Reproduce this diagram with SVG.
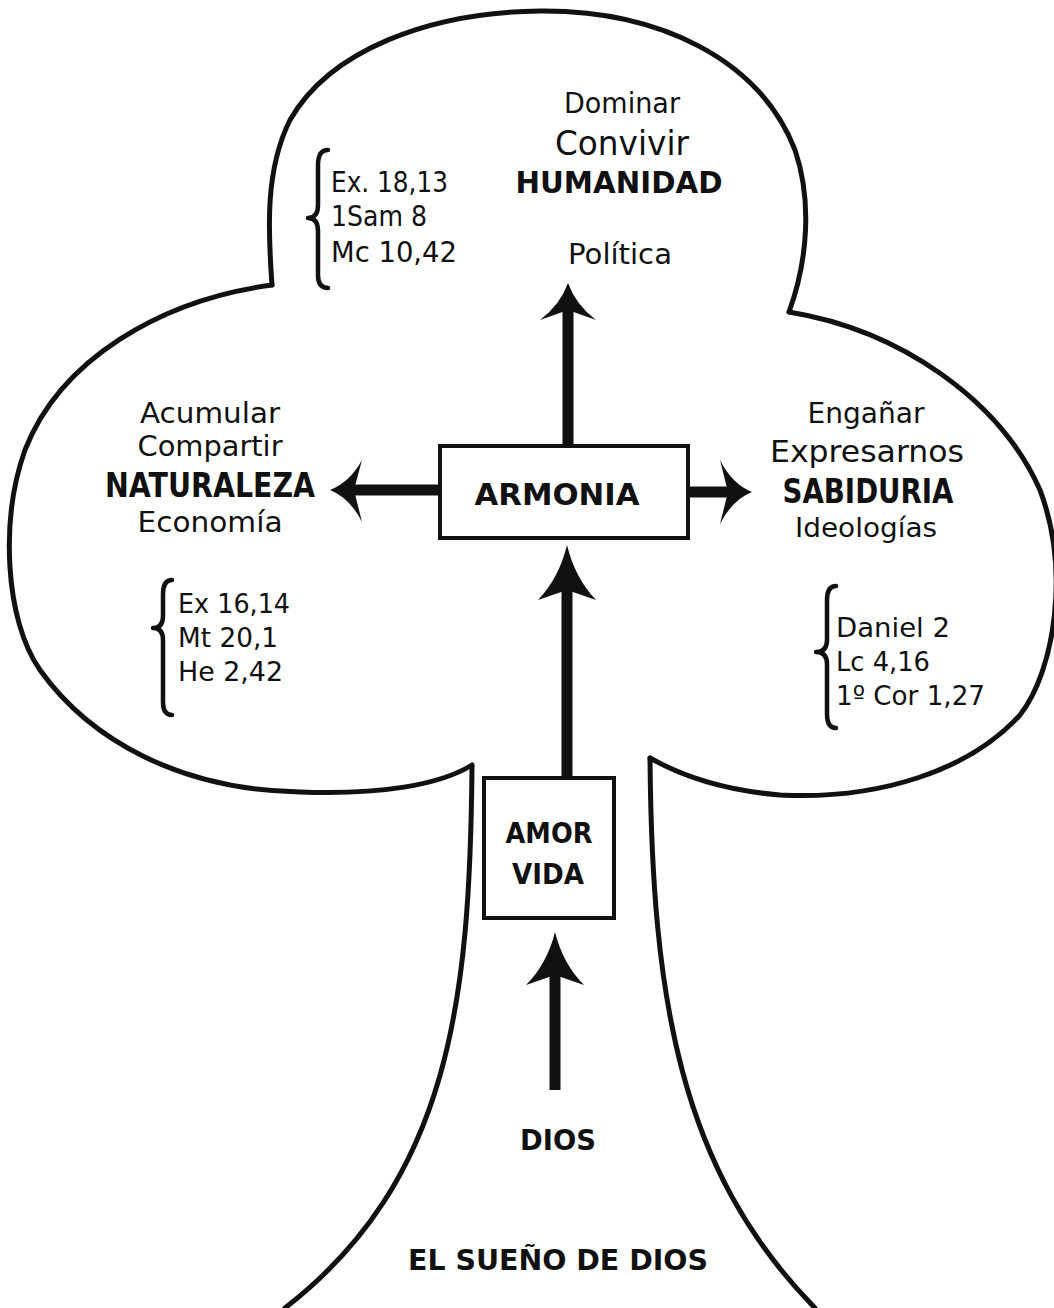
<svg xmlns="http://www.w3.org/2000/svg" width="1054" height="1308" viewBox="0 0 1054 1308">
<style>
.o{fill:none;stroke:#111;stroke-width:5;stroke-linecap:round;stroke-linejoin:round}
.br{fill:none;stroke:#111;stroke-width:4.5;stroke-linecap:round;stroke-linejoin:round}
.box{fill:#fff;stroke:#111;stroke-width:4}
.t{font-family:"DejaVu Sans","Liberation Sans",sans-serif;fill:#111}
.b{font-family:"DejaVu Sans","Liberation Sans",sans-serif;font-weight:bold;fill:#111}
.sh{stroke:#111;stroke-width:11;fill:none}
.ah{fill:#111}
</style>
<rect width="1054" height="1308" fill="#fff"/>
<g id="tree-outline">
<path class="o" d="M272,285 C268,230 265,170 290,120 C330,50 430,12 540,11 C660,10 760,60 795,150 C812,200 808,260 789,312"/>
<path class="o" d="M789,312 C900,330 1000,400 1040,490 C1070,570 1055,670 1020,715 C970,770 880,800 780,795 C720,790 680,775 650,758"/>
<path class="o" d="M272,285 C160,300 60,360 25,450 C0,520 5,620 40,670 C90,740 180,790 300,792 C380,795 440,785 472,765"/>
<path class="o" d="M472,766 C470,1000 450,1180 285,1308"/>
<path class="o" d="M650,758 C652,1000 680,1170 815,1308"/>
</g>
<g id="connectors">
<line class="sh" x1="568" y1="446" x2="568" y2="305"/>
<path class="ah" d="M568,283 Q560,305 540,320 L568,310 L596,320 Q576,305 568,283 Z"/>
<line class="sh" x1="440" y1="490" x2="352" y2="490"/>
<path class="ah" d="M330,490 Q350,482 362,460 L354,490 L362,522 Q350,498 330,490 Z"/>
<line class="sh" x1="688" y1="492" x2="730" y2="492"/>
<path class="ah" d="M752,492 Q732,484 720,460 L728,492 L720,524 Q732,500 752,492 Z"/>
<line class="sh" x1="567" y1="778" x2="567" y2="570"/>
<path class="ah" d="M567,545 Q559,578 538,600 L567,590 L596,600 Q575,578 567,545 Z"/>
<line class="sh" x1="555" y1="1090" x2="555" y2="960"/>
<path class="ah" d="M555,932 Q547,964 526,985 L555,975 L584,985 Q563,964 555,932 Z"/>
</g>
<g id="humanidad">
<text class="t" x="622" y="113" font-size="28" text-anchor="middle" textLength="116" lengthAdjust="spacingAndGlyphs">Dominar</text>
<text class="t" x="622" y="155" font-size="34" text-anchor="middle" textLength="134" lengthAdjust="spacingAndGlyphs">Convivir</text>
<text class="b" x="619" y="193" font-size="31" text-anchor="middle" textLength="207" lengthAdjust="spacingAndGlyphs">HUMANIDAD</text>
<text class="t" x="620" y="264" font-size="28" text-anchor="middle" textLength="104" lengthAdjust="spacingAndGlyphs">Política</text>
</g>
<g id="refs-humanidad">
<path class="br" d="M328,150 Q318,150 318,165 L318,205 Q318,218 308,218 Q318,218 318,231 L318,275 Q318,288 328,288"/>
<text class="t" x="331" y="192" font-size="29" textLength="117" lengthAdjust="spacingAndGlyphs">Ex. 18,13</text>
<text class="t" x="331" y="226" font-size="29" textLength="96" lengthAdjust="spacingAndGlyphs">1Sam 8</text>
<text class="t" x="331" y="262" font-size="29" textLength="126" lengthAdjust="spacingAndGlyphs">Mc 10,42</text>
</g>
<g id="naturaleza">
<text class="t" x="210" y="423" font-size="28" text-anchor="middle" textLength="140" lengthAdjust="spacingAndGlyphs">Acumular</text>
<text class="t" x="210" y="456" font-size="28" text-anchor="middle" textLength="145" lengthAdjust="spacingAndGlyphs">Compartir</text>
<text class="b" x="210" y="497" font-size="33" text-anchor="middle" textLength="210" lengthAdjust="spacingAndGlyphs">NATURALEZA</text>
<text class="t" x="210" y="532" font-size="28" text-anchor="middle" textLength="145" lengthAdjust="spacingAndGlyphs">Economía</text>
</g>
<g id="refs-naturaleza">
<path class="br" d="M172,580 Q163,580 163,594 L163,616 Q163,628 153,628 Q163,628 163,640 L163,702 Q163,715 172,715"/>
<text class="t" x="178" y="613" font-size="27" textLength="112" lengthAdjust="spacingAndGlyphs">Ex 16,14</text>
<text class="t" x="178" y="647" font-size="27" textLength="100" lengthAdjust="spacingAndGlyphs">Mt 20,1</text>
<text class="t" x="178" y="681" font-size="27" textLength="105" lengthAdjust="spacingAndGlyphs">He 2,42</text>
</g>
<g id="armonia">
<rect class="box" x="440" y="446" width="248" height="92"/>
<text class="b" x="557" y="505" font-size="30" text-anchor="middle" textLength="165" lengthAdjust="spacingAndGlyphs">ARMONIA</text>
</g>
<g id="sabiduria">
<text class="t" x="866" y="423" font-size="28" text-anchor="middle" textLength="117" lengthAdjust="spacingAndGlyphs">Engañar</text>
<text class="t" x="867" y="462" font-size="31" text-anchor="middle" textLength="194" lengthAdjust="spacingAndGlyphs">Expresarnos</text>
<text class="b" x="868" y="503" font-size="33" text-anchor="middle" textLength="171" lengthAdjust="spacingAndGlyphs">SABIDURIA</text>
<text class="t" x="866" y="537" font-size="26" text-anchor="middle" textLength="142" lengthAdjust="spacingAndGlyphs">Ideologías</text>
</g>
<g id="refs-sabiduria">
<path class="br" d="M836,586 Q827,586 827,600 L827,640 Q827,652 816,652 Q827,652 827,664 L827,714 Q827,728 836,728"/>
<text class="t" x="836" y="637" font-size="27" textLength="114" lengthAdjust="spacingAndGlyphs">Daniel 2</text>
<text class="t" x="836" y="671" font-size="27" textLength="94" lengthAdjust="spacingAndGlyphs">Lc 4,16</text>
<text class="t" x="836" y="705" font-size="27" textLength="149" lengthAdjust="spacingAndGlyphs">1º Cor 1,27</text>
</g>
<g id="amor-vida">
<rect class="box" x="484" y="778" width="130" height="140"/>
<text class="b" x="549" y="843" font-size="29" text-anchor="middle" textLength="87" lengthAdjust="spacingAndGlyphs">AMOR</text>
<text class="b" x="548" y="884" font-size="29" text-anchor="middle" textLength="72" lengthAdjust="spacingAndGlyphs">VIDA</text>
</g>
<g id="dios">
<text class="b" x="558" y="1150" font-size="28" text-anchor="middle" textLength="76" lengthAdjust="spacingAndGlyphs">DIOS</text>
</g>
<g id="title">
<text class="b" x="558" y="1270" font-size="28" text-anchor="middle" textLength="300" lengthAdjust="spacingAndGlyphs">EL SUEÑO DE DIOS</text>
</g>
</svg>
